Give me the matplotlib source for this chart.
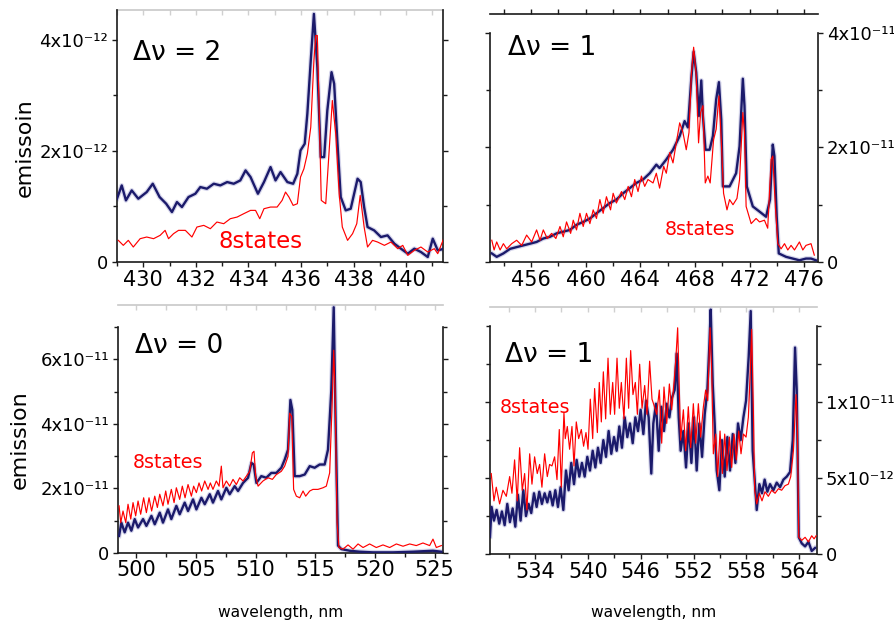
import numpy as np
import matplotlib
matplotlib.use('Agg')
import matplotlib.pyplot as plt

plt.rcParams['font.family'] = ['DejaVu Sans']

# ---- data: (wavelength nm, emission in panel units) ----
# top-left, delta v = 2, units 1e-12
tl_blue = np.array([
    [429.0, 1.14], [429.18, 1.38], [429.34, 1.11], [429.56, 1.29], [429.81, 1.14],
    [430.13, 1.26], [430.36, 1.41], [430.62, 1.17], [430.87, 1.05], [431.09, 0.90],
    [431.28, 1.08], [431.47, 0.99], [431.72, 1.17], [431.98, 1.23], [432.17, 1.35],
    [432.42, 1.32], [432.68, 1.41], [432.93, 1.38], [433.19, 1.44], [433.44, 1.41],
    [433.69, 1.47], [433.89, 1.65], [434.08, 1.53], [434.36, 1.23], [434.59, 1.44],
    [434.84, 1.71], [435.03, 1.47], [435.22, 1.62], [435.48, 1.44], [435.70, 1.41],
    [435.86, 1.59], [435.98, 2.01], [436.14, 2.13], [436.24, 2.67], [436.37, 3.63],
    [436.49, 4.47], [436.62, 3.51], [436.75, 1.89], [436.88, 1.89], [437.00, 2.73],
    [437.16, 3.42], [437.26, 3.21], [437.38, 2.19], [437.51, 1.17], [437.70, 0.93],
    [437.89, 0.96], [438.02, 1.23], [438.15, 1.50], [438.27, 1.44], [438.40, 0.99],
    [438.53, 0.63], [438.78, 0.57], [439.04, 0.45], [439.29, 0.48], [439.55, 0.33],
    [439.80, 0.24], [440.06, 0.15], [440.31, 0.24], [440.56, 0.18], [440.82, 0.09],
    [441.01, 0.42], [441.20, 0.21], [441.45, 0.24]])
tl_red = np.array([
    [429.05, 0.39], [429.24, 0.30], [429.43, 0.39], [429.62, 0.27], [429.88, 0.42],
    [430.13, 0.45], [430.39, 0.42], [430.64, 0.48], [430.83, 0.57], [430.96, 0.42],
    [431.15, 0.51], [431.34, 0.57], [431.60, 0.57], [431.85, 0.45], [432.04, 0.63],
    [432.30, 0.66], [432.55, 0.60], [432.80, 0.72], [433.06, 0.69], [433.31, 0.78],
    [433.57, 0.81], [433.82, 0.87], [434.08, 0.93], [434.27, 0.93], [434.43, 0.78],
    [434.59, 0.96], [434.84, 0.99], [435.09, 0.99], [435.28, 1.11], [435.41, 1.26],
    [435.54, 1.17], [435.70, 1.02], [435.86, 1.05], [435.98, 1.53], [436.11, 1.68],
    [436.24, 1.95], [436.37, 2.43], [436.49, 3.63], [436.56, 4.08], [436.62, 4.08],
    [436.68, 2.91], [436.77, 1.11], [436.94, 1.05], [437.07, 2.01], [437.19, 2.91],
    [437.32, 2.31], [437.45, 1.23], [437.57, 0.63], [437.77, 0.39], [437.96, 0.51],
    [438.12, 0.69], [438.25, 1.20], [438.40, 0.63], [438.53, 0.27], [438.72, 0.39],
    [438.91, 0.36], [439.17, 0.30], [439.42, 0.36], [439.68, 0.24], [439.87, 0.30],
    [440.06, 0.12], [440.31, 0.21], [440.56, 0.27], [440.82, 0.18], [441.07, 0.24],
    [441.20, 0.15], [441.45, 0.45]])

# top-right, delta v = 1, units 1e-11
tr_blue = np.array([
    [453.13, 0.15], [453.49, 0.09], [453.98, 0.15], [454.47, 0.23], [454.95, 0.26],
    [455.44, 0.29], [455.93, 0.32], [456.41, 0.35], [456.90, 0.41], [457.39, 0.44],
    [457.87, 0.50], [458.36, 0.53], [458.85, 0.56], [459.33, 0.65], [459.82, 0.70],
    [460.31, 0.76], [460.79, 0.85], [461.28, 0.94], [461.77, 1.03], [462.25, 1.09],
    [462.74, 1.20], [463.23, 1.29], [463.71, 1.38], [464.20, 1.44], [464.69, 1.55],
    [465.17, 1.70], [465.41, 1.64], [465.90, 1.79], [466.39, 1.96], [466.88, 2.20],
    [467.24, 2.46], [467.48, 2.35], [467.73, 3.20], [467.90, 3.67], [468.09, 3.31],
    [468.29, 2.55], [468.46, 3.17], [468.58, 2.55], [468.77, 1.96], [469.07, 1.96],
    [469.31, 2.20], [469.55, 2.84], [469.75, 3.14], [469.92, 2.49], [470.04, 1.32],
    [470.53, 1.32], [471.01, 1.55], [471.26, 2.02], [471.50, 3.20], [471.62, 2.73],
    [471.79, 1.32], [472.23, 0.97], [472.72, 0.88], [473.20, 0.79], [473.49, 1.09],
    [473.69, 2.05], [473.81, 1.85], [473.98, 0.79], [474.13, 0.15], [474.66, 0.09],
    [475.15, 0.06], [475.64, 0.03], [476.12, 0.06], [476.49, 0.06], [476.85, 0.03]])
tr_red = np.array([
    [453.13, 0.38], [453.30, 0.21], [453.49, 0.35], [453.74, 0.21], [453.98, 0.32],
    [454.22, 0.23], [454.59, 0.32], [454.95, 0.38], [455.32, 0.29], [455.68, 0.47],
    [456.05, 0.35], [456.41, 0.56], [456.66, 0.38], [456.90, 0.56], [457.19, 0.41],
    [457.51, 0.50], [457.82, 0.41], [458.12, 0.62], [458.36, 0.44], [458.60, 0.70],
    [458.90, 0.50], [459.09, 0.73], [459.33, 0.56], [459.58, 0.85], [459.82, 0.62],
    [460.06, 0.85], [460.31, 0.67], [460.55, 0.91], [460.79, 0.76], [461.04, 1.09],
    [461.28, 0.85], [461.52, 1.14], [461.82, 0.91], [462.01, 1.20], [462.25, 1.03],
    [462.62, 1.23], [462.86, 1.09], [463.11, 1.32], [463.35, 1.14], [463.59, 1.44],
    [463.83, 1.23], [464.08, 1.50], [464.32, 1.32], [464.56, 1.44], [464.93, 1.38],
    [465.17, 1.55], [465.41, 1.29], [465.71, 1.67], [465.90, 1.55], [466.15, 1.91],
    [466.39, 1.73], [466.63, 2.08], [466.88, 2.43], [467.12, 2.26], [467.36, 1.96],
    [467.56, 2.26], [467.73, 3.26], [467.90, 3.75], [468.09, 3.26], [468.26, 2.08],
    [468.41, 2.61], [468.58, 2.73], [468.75, 1.38], [468.94, 1.50], [469.11, 1.38],
    [469.36, 2.14], [469.55, 2.32], [469.75, 2.90], [469.92, 2.14], [470.09, 1.20],
    [470.34, 0.91], [470.53, 1.09], [470.78, 1.00], [471.07, 1.11], [471.26, 1.44],
    [471.50, 2.61], [471.62, 2.26], [471.74, 0.97], [472.11, 0.67], [472.47, 0.76],
    [472.72, 0.70], [473.08, 0.73], [473.32, 0.59], [473.57, 1.79], [473.69, 1.85],
    [473.88, 0.97], [474.06, 0.32], [474.30, 0.23], [474.55, 0.32], [474.79, 0.21],
    [475.03, 0.29], [475.28, 0.21], [475.64, 0.35], [475.89, 0.21], [476.12, 0.29],
    [476.49, 0.32], [476.73, 0.12]])

# bottom-left, delta v = 0, units 1e-11
bl_blue = np.array([
    [498.55, 0.53], [498.74, 0.94], [499.02, 0.64], [499.30, 0.94], [499.58, 0.69],
    [499.86, 1.05], [500.14, 0.79], [500.56, 1.05], [500.84, 0.84], [501.26, 1.15],
    [501.54, 0.89], [501.96, 1.25], [502.23, 0.94], [502.65, 1.35], [502.93, 1.05],
    [503.35, 1.46], [503.63, 1.20], [504.05, 1.56], [504.33, 1.30], [504.75, 1.66],
    [505.03, 1.35], [505.45, 1.71], [505.73, 1.51], [506.15, 1.82], [506.42, 1.56],
    [506.84, 1.92], [507.12, 1.66], [507.54, 2.02], [507.82, 1.82], [508.24, 2.07],
    [508.52, 1.92], [508.94, 2.17], [509.36, 2.33], [509.64, 2.79], [509.83, 2.74],
    [510.06, 2.17], [510.47, 2.38], [510.89, 2.33], [511.31, 2.48], [511.73, 2.48],
    [512.15, 2.64], [512.43, 2.89], [512.71, 3.20], [512.91, 4.74], [513.07, 4.43],
    [513.27, 2.38], [513.69, 2.38], [514.11, 2.43], [514.53, 2.69], [514.94, 2.64],
    [515.36, 2.74], [515.78, 2.74], [516.06, 3.20], [516.34, 5.05], [516.54, 7.61],
    [516.70, 4.02], [516.90, 0.23], [517.18, 0.12], [517.88, 0.07], [518.72, 0.04],
    [519.83, 0.02], [521.51, 0.02], [523.18, 0.04], [524.86, 0.07], [525.56, 0.04]])
bl_red = np.array([
    [498.55, 1.46], [498.69, 0.94], [498.88, 1.30], [499.11, 0.94], [499.30, 1.51],
    [499.53, 1.05], [499.72, 1.56], [499.94, 1.15], [500.14, 1.61], [500.36, 1.20],
    [500.61, 1.71], [500.84, 1.25], [501.06, 1.71], [501.28, 1.30], [501.54, 1.76],
    [501.76, 1.41], [501.96, 1.82], [502.23, 1.46], [502.46, 1.92], [502.65, 1.51],
    [502.93, 1.97], [503.16, 1.56], [503.35, 2.02], [503.63, 1.66], [503.85, 2.07],
    [504.08, 1.71], [504.33, 2.12], [504.61, 1.76], [504.80, 2.07], [505.03, 1.87],
    [505.25, 2.17], [505.47, 1.92], [505.73, 2.23], [506.01, 1.97], [506.20, 2.17],
    [506.42, 1.97], [506.70, 2.23], [506.93, 2.07], [507.12, 2.69], [507.26, 2.02],
    [507.54, 2.23], [507.82, 2.07], [508.10, 2.28], [508.38, 2.12], [508.66, 2.33],
    [508.94, 2.23], [509.22, 2.38], [509.50, 2.53], [509.72, 3.10], [509.86, 3.15],
    [510.00, 2.38], [510.20, 2.07], [510.61, 2.23], [511.03, 2.33], [511.40, 2.28],
    [511.73, 2.43], [512.15, 2.53], [512.43, 2.69], [512.71, 2.99], [512.85, 4.33],
    [513.02, 4.23], [513.18, 1.97], [513.41, 1.76], [513.69, 1.71], [513.97, 1.92],
    [514.19, 1.76], [514.53, 1.92], [514.80, 1.97], [515.22, 1.97], [515.64, 2.02],
    [515.92, 2.07], [516.20, 2.48], [516.40, 4.53], [516.54, 6.28], [516.65, 5.05],
    [516.82, 0.94], [516.98, 0.17], [517.32, 0.12], [517.74, 0.25], [518.16, 0.12],
    [518.58, 0.28], [519.00, 0.17], [519.55, 0.28], [520.11, 0.17], [520.67, 0.25],
    [521.23, 0.17], [521.79, 0.28], [522.35, 0.21], [522.91, 0.28], [523.46, 0.23],
    [524.02, 0.31], [524.58, 0.23], [524.86, 0.43], [525.14, 0.17], [525.56, 0.23]])

# bottom-right, delta v = 1, units 1e-12
br_blue = np.array([
    [528.90, 1.14], [529.08, 3.1], [529.35, 2.2], [529.65, 2.9], [529.95, 2.0],
    [530.25, 2.8], [530.56, 1.9], [530.86, 3.3], [531.16, 2.1], [531.47, 3.0],
    [531.77, 1.8], [532.07, 3.9], [532.37, 2.2], [532.68, 4.2], [532.98, 2.5],
    [533.28, 3.3], [533.58, 2.7], [533.89, 4.0], [534.19, 3.1], [534.49, 4.1],
    [534.79, 3.3], [535.10, 4.0], [535.40, 3.4], [535.70, 4.1], [536.01, 3.2],
    [536.31, 4.2], [536.61, 3.1], [536.91, 4.4], [537.22, 2.9], [537.52, 5.5],
    [537.82, 4.2], [538.12, 6.0], [538.43, 4.6], [538.73, 6.2], [539.03, 5.1],
    [539.33, 6.0], [539.64, 5.1], [539.94, 6.4], [540.24, 5.5], [540.55, 6.8],
    [540.85, 5.7], [541.15, 7.0], [541.45, 6.0], [541.76, 7.5], [542.06, 6.4],
    [542.36, 8.1], [542.66, 6.6], [542.97, 7.7], [543.27, 6.8], [543.57, 8.4],
    [543.87, 7.0], [544.18, 9.0], [544.48, 7.7], [544.78, 8.6], [545.09, 7.3],
    [545.39, 9.0], [545.69, 8.1], [545.99, 9.5], [546.30, 7.9], [546.60, 10.1],
    [546.90, 9.0], [547.20, 5.3], [547.43, 8.6], [547.73, 9.9], [548.04, 6.8],
    [548.34, 9.7], [548.64, 8.1], [548.95, 9.9], [549.25, 9.0], [549.55, 10.3],
    [549.85, 10.8], [550.08, 13.2], [550.31, 9.0], [550.53, 6.8], [550.84, 8.1],
    [551.14, 5.7], [551.44, 8.6], [551.75, 6.0], [552.05, 9.0], [552.35, 5.5],
    [552.65, 8.6], [552.96, 6.4], [553.26, 9.2], [553.56, 10.8], [553.79, 13.8],
    [553.94, 16.1], [554.17, 11.2], [554.39, 8.6], [554.62, 5.5], [554.92, 4.2],
    [555.22, 7.5], [555.53, 5.1], [555.83, 7.7], [556.13, 5.5], [556.44, 7.9],
    [556.74, 6.0], [557.04, 8.6], [557.34, 7.5], [557.65, 9.0], [557.95, 10.1],
    [558.25, 13.0], [558.48, 16.0], [558.70, 6.8], [558.93, 4.9], [559.16, 2.9],
    [559.46, 4.6], [559.76, 4.0], [560.06, 4.9], [560.37, 4.1], [560.67, 4.6],
    [561.05, 4.2], [561.43, 4.7], [561.81, 4.4], [562.19, 4.9], [562.57, 5.1],
    [562.94, 5.4], [563.25, 7.5], [563.51, 13.6], [563.70, 10.8], [563.93, 1.1],
    [564.27, 0.7], [564.65, 0.5], [565.03, 0.8], [565.40, 0.2], [565.78, 0.4]])
br_red = np.array([
    [529.04, 5.3], [529.35, 3.5], [529.61, 4.4], [529.99, 3.3], [530.37, 4.2],
    [530.75, 3.8], [531.13, 5.1], [531.39, 4.0], [531.69, 6.2], [531.99, 3.5],
    [532.26, 7.0], [532.56, 4.2], [532.83, 5.3], [533.09, 2.9], [533.40, 6.6],
    [533.66, 4.6], [533.96, 6.4], [534.26, 5.3], [534.53, 5.9], [534.79, 4.4],
    [535.10, 6.6], [535.40, 5.1], [535.66, 5.9], [535.93, 5.8], [536.23, 6.4],
    [536.50, 4.9], [536.76, 8.2], [536.99, 4.4], [537.29, 9.3], [537.44, 7.6],
    [537.67, 8.4], [537.93, 6.9], [538.20, 8.4], [538.43, 5.8], [538.69, 8.7],
    [538.96, 7.6], [539.26, 8.2], [539.52, 7.1], [539.79, 8.0], [540.02, 6.9],
    [540.28, 10.2], [540.55, 7.6], [540.77, 10.9], [541.08, 8.0], [541.30, 11.3],
    [541.53, 8.7], [541.76, 12.0], [542.02, 8.9], [542.29, 12.9], [542.55, 9.2],
    [542.82, 11.3], [543.04, 9.2], [543.31, 12.9], [543.57, 9.6], [543.80, 11.3],
    [544.10, 8.9], [544.37, 12.9], [544.63, 9.6], [544.86, 13.4], [545.12, 10.5],
    [545.39, 11.3], [545.62, 9.2], [545.88, 12.5], [546.15, 9.6], [546.45, 11.1],
    [546.71, 9.2], [547.01, 12.7], [547.28, 10.2], [547.51, 9.8], [547.81, 9.2],
    [548.11, 10.8], [548.38, 7.3], [548.64, 11.0], [548.95, 8.6], [549.25, 11.2],
    [549.51, 9.5], [549.82, 11.6], [550.00, 13.0], [550.19, 14.9], [550.38, 10.8],
    [550.53, 7.5], [550.84, 9.5], [551.10, 6.8], [551.40, 9.7], [551.67, 7.0],
    [551.97, 9.9], [552.24, 7.3], [552.54, 9.9], [552.80, 7.7], [553.11, 9.7],
    [553.37, 10.8], [553.60, 10.1], [553.87, 14.9], [554.06, 11.9], [554.24, 6.6],
    [554.51, 7.9], [554.73, 5.1], [555.00, 8.1], [555.26, 5.3], [555.53, 7.9],
    [555.79, 5.5], [556.06, 7.7], [556.32, 5.7], [556.59, 7.9], [556.85, 6.2],
    [557.12, 8.1], [557.38, 6.6], [557.65, 7.9], [557.95, 7.7], [558.21, 9.0],
    [558.40, 11.6], [558.59, 14.8], [558.78, 9.5], [558.93, 4.2], [559.16, 3.3],
    [559.46, 4.0], [559.76, 3.5], [560.10, 4.1], [560.48, 3.8], [560.86, 4.2],
    [561.24, 4.0], [561.62, 4.3], [561.99, 4.2], [562.37, 4.5], [562.75, 4.6],
    [563.02, 5.1], [563.32, 6.8], [563.62, 10.5], [563.77, 8.6], [563.93, 1.1],
    [564.27, 0.9], [564.65, 1.1], [565.03, 0.8], [565.40, 1.2], [565.67, 1.0],
    [565.90, 1.2]])

# ---- per-panel axis settings ----
panels = [
    dict(px=(117, 10, 443, 262), xlim=(429, 441.4), xmaj=2, xmin=1, xstart=430,
         ytop=4.54, ybound=4.54, ymaj=[0, 2, 4], ymin=1, scale=1e-12,
         blue=tl_blue, red=tl_red, dv='\u0394\u03bd = 2', dvpos=(0.049, 0.80),
         st=(0.31, 0.056), stsize=16.5, right=False, topstyle='faint'),
    dict(px=(490, 14, 818, 262), xlim=(453, 477), xmaj=4, xmin=2, xstart=456,
         ytop=4.33, ybound=4.0, ymaj=[0, 2, 4], ymin=1, scale=1e-11,
         blue=tr_blue, red=tr_red, dv='\u0394\u03bd = 1', dvpos=(0.055, 0.835),
         st=(0.534, 0.109), stsize=13.8, right=True, topstyle='dark'),
    dict(px=(118, 305, 443, 553), xlim=(498.46, 525.7), xmaj=5, xmin=2.5, xstart=500,
         ytop=7.68, ybound=7.0, ymaj=[0, 2, 4, 6], ymin=1, scale=1e-11,
         blue=bl_blue, red=bl_red, dv='\u0394\u03bd = 0', dvpos=(0.052, 0.808),
         st=(0.046, 0.343), stsize=13.8, right=False, topstyle='faint'),
    dict(px=(490, 307, 817, 554), xlim=(528.9, 566.0), xmaj=6, xmin=3, xstart=534,
         ytop=16.27, ybound=15.0, ymaj=[0, 5, 10], ymin=2.5, scale=1e-12,
         blue=br_blue, red=br_red, dv='\u0394\u03bd = 1', dvpos=(0.046, 0.778),
         st=(0.031, 0.571), stsize=13.8, right=True, topstyle='faint'),
]

W, H = 895, 621
fig = plt.figure(figsize=(W / 100, H / 100), dpi=100)

ink = '#1a1a1a'
navy = '#1b1a6b'
SUP = str.maketrans('-0123456789', '\u207b\u2070\u00b9\u00b2\u00b3\u2074\u2075\u2076\u2077\u2078\u2079')


def ylab(val):
    # val is the real emission value, e.g. 2e-12 -> "2x10⁻¹²"
    if val == 0:
        return '0'
    e = int(np.floor(np.log10(val) + 1e-9))
    m = val / 10.0 ** e
    m = int(round(m)) if abs(m - round(m)) < 1e-6 else round(m, 1)
    return f'{m}x10' + str(e).translate(SUP)


for p in panels:
    l, t, r, b = p['px']
    ax = fig.add_axes([l / W, 1 - b / H, (r - l) / W, (b - t) / H])
    sc = p['scale']

    # blue with a soft halo, then red on top
    ax.plot(p['blue'][:, 0], p['blue'][:, 1] * sc, color='#7a7ac0', lw=3.4,
            alpha=0.3, solid_joinstyle='round', zorder=2)
    ax.plot(p['blue'][:, 0], p['blue'][:, 1] * sc, color=navy, lw=1.7,
            solid_joinstyle='round', zorder=3)
    ax.plot(p['red'][:, 0], p['red'][:, 1] * sc, color='#ff0000', lw=0.85, zorder=4)

    ax.set_xlim(*p['xlim'])
    ax.set_ylim(0, p['ytop'] * sc)

    xmaj = np.arange(p['xstart'], p['xlim'][1] + 1e-6, p['xmaj'])
    xmin = np.arange(p['xstart'] - p['xmaj'], p['xlim'][1] + 1e-6, p['xmin'])
    xmin = xmin[(xmin >= p['xlim'][0]) & (xmin <= p['xlim'][1])]
    ax.set_xticks(xmaj)
    ax.set_xticks(xmin, minor=True)
    ax.set_xticklabels([f'{v:g}' for v in xmaj])

    ymaj = np.array(p['ymaj'], dtype=float)
    ymin = np.arange(0, p['ybound'] + 1e-6, p['ymin'])
    ax.set_yticks(ymaj * sc)
    ax.set_yticks(ymin * sc, minor=True)
    ax.set_yticklabels([ylab(v * sc) for v in ymaj])

    for s in ('left', 'right', 'bottom'):
        ax.spines[s].set_color(ink)
        ax.spines[s].set_linewidth(1.2)
    ax.spines['left'].set_bounds(0, p['ybound'] * sc)
    ax.spines['right'].set_bounds(0, p['ybound'] * sc)
    ax.spines['top'].set_visible(False)

    ax.tick_params(axis='both', which='both', direction='out', color=ink, width=1.0)
    ax.tick_params(axis='both', which='major', length=3.4)
    ax.tick_params(axis='both', which='minor', length=2.6)
    ax.tick_params(axis='x', which='both', top=False, labelsize=15, pad=2)
    ax.tick_params(axis='y', which='both', left=True, right=True,
                   labelleft=not p['right'], labelright=p['right'],
                   labelsize=13, pad=3)

    # top frame line
    sec = ax.secondary_xaxis('top')
    sec.set_xticks(xmaj)
    sec.set_xticks(xmin, minor=True)
    if p['topstyle'] == 'dark':
        sec.spines['top'].set_color(ink)
        sec.spines['top'].set_linewidth(1.2)
        sec.tick_params(which='both', direction='out', color=ink, width=1.0,
                        labeltop=False, length=3.4)
    else:
        sec.spines['top'].set_color('#c8c8c8')
        sec.spines['top'].set_linewidth(1.2)
        sec.tick_params(which='both', direction='in', color='#d0d0d0', width=1.0,
                        labeltop=False, length=3.4)

    ax.text(p['dvpos'][0], p['dvpos'][1], p['dv'], transform=ax.transAxes,
            fontsize=19, color='black', va='baseline', ha='left')
    ax.text(p['st'][0], p['st'][1], '8states', transform=ax.transAxes,
            fontsize=p['stsize'], color='#ff0000', va='baseline', ha='left')

fig.text(25 / W, 1 - 148 / H, 'emissoin', rotation=90, fontsize=16,
         ha='center', va='center')
fig.text(20 / W, 1 - 440 / H, 'emission', rotation=90, fontsize=16,
         ha='center', va='center')
fig.text(281 / W, 1 - 612 / H, 'wavelength, nm', fontsize=11.2,
         ha='center', va='center')
fig.text(654 / W, 1 - 612 / H, 'wavelength, nm', fontsize=11.2,
         ha='center', va='center')

fig.savefig('out.png', dpi=100)
